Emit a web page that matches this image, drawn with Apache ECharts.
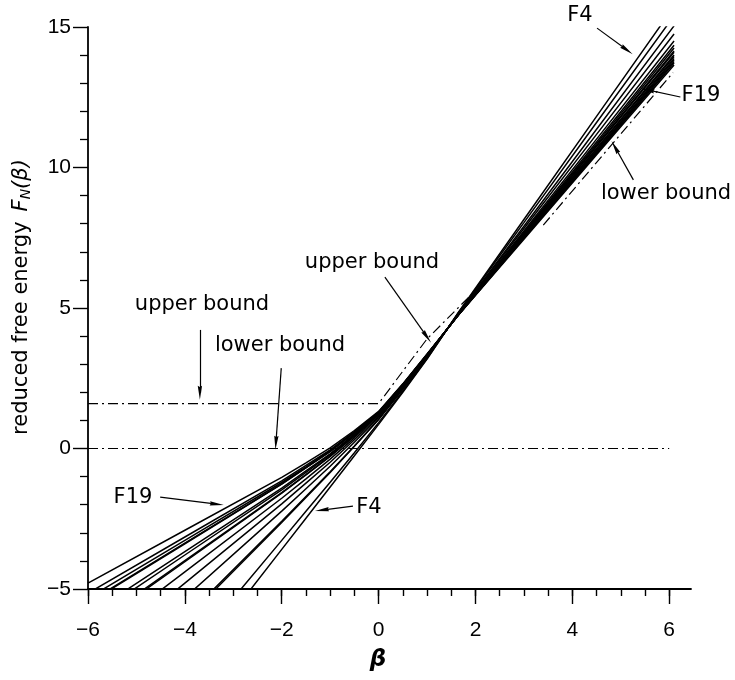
<!DOCTYPE html>
<html>
<head>
<meta charset="utf-8">
<title>reduced free energy</title>
<script src="https://cdn.jsdelivr.net/npm/echarts@6/dist/echarts.min.js"></script>
<style>
    html, body { margin: 0; padding: 0; background: #fff; }
    #chart { width: 735px; height: 680px; }
</style>
</head>
<body>
<div id="chart"></div>
<script>
    var beta = [-6, -4, -2, -1.5, -1, -0.5, 0, 0.5, 1, 1.65, 3, 4.5, 6.1];
    // F_N(beta) for N = 4 .. 19
    var f4  = [-12.47, -8.03, -3.59, -2.48, -1.37, -0.26, 0.86, 2.00, 3.18, 4.85, 8.15, 11.82, 15.73];
    var f5  = [-11.51, -7.39, -3.27, -2.23, -1.20, -0.15, 0.92, 2.04, 3.20, 4.84, 8.04, 11.60, 15.40];
    var f6  = [-9.59, -6.11, -2.63, -1.74, -0.85, 0.08, 1.03, 2.11, 3.25, 4.81, 7.91, 11.36, 15.04];
    var f7  = [-9.47, -6.03, -2.59, -1.71, -0.83, 0.09, 1.04, 2.12, 3.25, 4.81, 7.83, 11.18, 14.75];
    var f8  = [-8.39, -5.31, -2.23, -1.43, -0.63, 0.22, 1.10, 2.16, 3.28, 4.80, 7.74, 11.01, 14.50];
    var f9  = [-7.61, -4.79, -1.97, -1.23, -0.49, 0.31, 1.15, 2.19, 3.29, 4.79, 7.69, 10.91, 14.35];
    var f10 = [-7.01, -4.39, -1.77, -1.08, -0.38, 0.38, 1.19, 2.21, 3.31, 4.78, 7.65, 10.84, 14.25];
    var f11 = [-6.47, -4.03, -1.59, -0.94, -0.28, 0.44, 1.22, 2.23, 3.32, 4.77, 7.62, 10.78, 14.15];
    var f12 = [-6.41, -3.99, -1.57, -0.93, -0.27, 0.45, 1.22, 2.24, 3.32, 4.77, 7.60, 10.75, 14.10];
    var f13 = [-6.11, -3.79, -1.47, -0.85, -0.22, 0.49, 1.24, 2.25, 3.33, 4.77, 7.57, 10.68, 14.00];
    var f14 = [-5.93, -3.67, -1.41, -0.80, -0.19, 0.51, 1.25, 2.26, 3.33, 4.76, 7.55, 10.65, 13.95];
    var f15 = [-5.51, -3.39, -1.27, -0.69, -0.11, 0.56, 1.28, 2.27, 3.34, 4.76, 7.53, 10.60, 13.88];
    var f16 = [-5.48, -3.37, -1.26, -0.68, -0.10, 0.56, 1.28, 2.27, 3.34, 4.76, 7.51, 10.57, 13.83];
    var f17 = [-5.33, -3.27, -1.21, -0.65, -0.08, 0.58, 1.29, 2.28, 3.35, 4.76, 7.49, 10.53, 13.77];
    var f18 = [-5.15, -3.15, -1.15, -0.60, -0.05, 0.60, 1.30, 2.29, 3.35, 4.76, 7.48, 10.50, 13.72];
    var f19 = [-4.79, -2.91, -1.03, -0.51, 0.02, 0.64, 1.32, 2.30, 3.36, 4.75, 7.45, 10.45, 13.65];
    var curveNames = ['F4', 'F5', 'F6', 'F7', 'F8', 'F9', 'F10', 'F11', 'F12', 'F13', 'F14', 'F15', 'F16', 'F17', 'F18', 'F19'];
    var curves = [f4, f5, f6, f7, f8, f9, f10, f11, f12, f13, f14, f15, f16, f17, f18, f19];

    // bounds (dash-dot)
    var upperBoundBeta = [-6, 0, 1.0, 1.9];
    var upperBoundF    = [1.6, 1.6, 3.9, 5.45];
    var lowerBoundBeta = [-6, 6];
    var lowerBoundF    = [0, 0];
    var lowerBoundHiBeta = [3.4, 6.08];
    var lowerBoundHiF    = [7.95, 13.38];

    // ticks
    var xLabels = [-6, -4, -2, 0, 2, 4, 6];
    var xMinorTicks = [-6, -5.5, -5, -4.5, -4, -3.5, -3, -2.5, -2, -1.5, -1, -0.5, 0, 0.5, 1, 1.5, 2, 2.5, 3, 3.5, 4, 4.5, 5, 5.5, 6];

    // annotation arrows [from, to] in data units
    var arrows = [
        [[4.51, 14.96], [5.13, 14.18]],
        [[6.23, 12.51], [5.55, 12.76]],
        [[5.26, 9.56], [4.88, 10.73]],
        [[0.13, 6.10], [1.0, 3.97]],
        [[-3.69, 4.22], [-3.69, 1.98]],
        [[-2.01, 2.86], [-2.12, 0.20]],
        [[-4.51, -1.73], [-3.34, -1.98]],
        [[-0.53, -2.05], [-1.17, -2.19]]
    ];

    function pairs(xs, ys) {
        return xs.map(function (x, i) { return [x, ys[i]]; });
    }
    function minus(v) {
        return v < 0 ? '\u2212' + (-v) : '' + v;
    }

    var chart = echarts.init(document.getElementById('chart'));
    var dashDot = [10, 4, 2, 4];
    var series = curves.map(function (vals, i) {
        return {
            name: curveNames[i],
            type: 'line',
            data: pairs(beta, vals),
            symbol: 'none',
            silent: true,
            lineStyle: { color: '#000', width: 1.5 },
            z: 3
        };
    });
    series.push({
        name: 'upper bound', type: 'line', data: pairs(upperBoundBeta, upperBoundF),
        symbol: 'none', silent: true,
        lineStyle: { color: '#000', width: 1.2, type: dashDot }
    });
    series.push({
        name: 'lower bound hi', type: 'line', data: pairs(lowerBoundHiBeta, lowerBoundHiF),
        symbol: 'none', silent: true,
        lineStyle: { color: '#000', width: 1.2, type: dashDot }
    });
    series.push({
        name: 'lower bound', type: 'line', data: pairs(lowerBoundBeta, lowerBoundF),
        symbol: 'none', silent: true,
        lineStyle: { color: '#000', width: 1.2, type: dashDot },
        markLine: {
            silent: true,
            animation: false,
            symbol: ['none', 'path://M0,0L2,13L0,12L-2,13Z'],
            symbolSize: 14,
            symbolKeepAspect: true,
            label: { show: false },
            lineStyle: { type: 'solid', color: '#000', width: 1.2 },
            data: arrows.map(function (a) {
                return [{ coord: a[0] }, { coord: a[1] }];
            })
        }
    });

    var textFont = '21px "DejaVu Sans"';
    function label(text, x, y) {
        return {
            type: 'text', x: x, y: y, silent: true,
            style: { text: text, font: textFont, fill: '#000', align: 'center', verticalAlign: 'middle' }
        };
    }

    var option = {
        animation: false,
        backgroundColor: '#fff',
        grid: { left: 88, right: 44, top: 27, bottom: 91 },
        xAxis: [{
            type: 'value', min: -6, max: 6.45,
            axisLine: { onZero: false, lineStyle: { color: '#000', width: 1.8 } },
            axisTick: { customValues: xMinorTicks, length: 7, lineStyle: { color: '#000', width: 1.4 } },
            axisLabel: {
                customValues: xLabels, margin: 31, color: '#000',
                fontFamily: 'Liberation Sans', fontSize: 21, formatter: minus
            },
            splitLine: { show: false }
        }, {
            type: 'value', min: -6, max: 6.45, position: 'bottom',
            axisLine: { show: false, onZero: false },
            axisTick: { customValues: xLabels, length: 15, lineStyle: { color: '#000', width: 1.4 } },
            axisLabel: { show: false },
            splitLine: { show: false }
        }],
        yAxis: {
            type: 'value', min: -5, max: 15, interval: 5,
            axisLine: { show: true, onZero: false, lineStyle: { color: '#000', width: 1.8 } },
            axisTick: { show: true, length: 15, lineStyle: { color: '#000', width: 1.4 } },
            minorTick: { show: true, splitNumber: 5, length: 8, lineStyle: { color: '#000', width: 1.3 } },
            axisLabel: { margin: 17, color: '#000', fontFamily: 'Liberation Sans', fontSize: 21, formatter: minus },
            splitLine: { show: false }
        },
        graphic: [
            label('F4', 580, 16),
            label('F19', 701, 96),
            label('lower bound', 666, 194),
            label('upper bound', 372, 263),
            label('upper bound', 202, 305),
            label('lower bound', 280, 346),
            label('F19', 133, 498),
            label('F4', 369, 508),
            {
                type: 'text', x: 378, y: 660, silent: true,
                style: { text: 'β', font: 'italic bold 23px "DejaVu Sans"', fill: '#000', align: 'center', verticalAlign: 'middle' }
            },
            {
                type: 'text', x: 22, y: 297, rotation: Math.PI / 2, silent: true,
                style: {
                    text: '{r|reduced free energy}   {i|F}{s|N}{i|(β)}',
                    align: 'center', verticalAlign: 'middle', fill: '#000',
                    rich: {
                        r: { fontFamily: 'DejaVu Sans', fontSize: 21 },
                        i: { fontFamily: 'DejaVu Sans', fontSize: 21, fontStyle: 'italic' },
                        s: { fontFamily: 'DejaVu Sans', fontSize: 14, fontStyle: 'italic', padding: [9, 0, 0, 0] }
                    }
                }
            }
        ],
        series: series
    };
    chart.setOption(option);
</script>
</body>
</html>
